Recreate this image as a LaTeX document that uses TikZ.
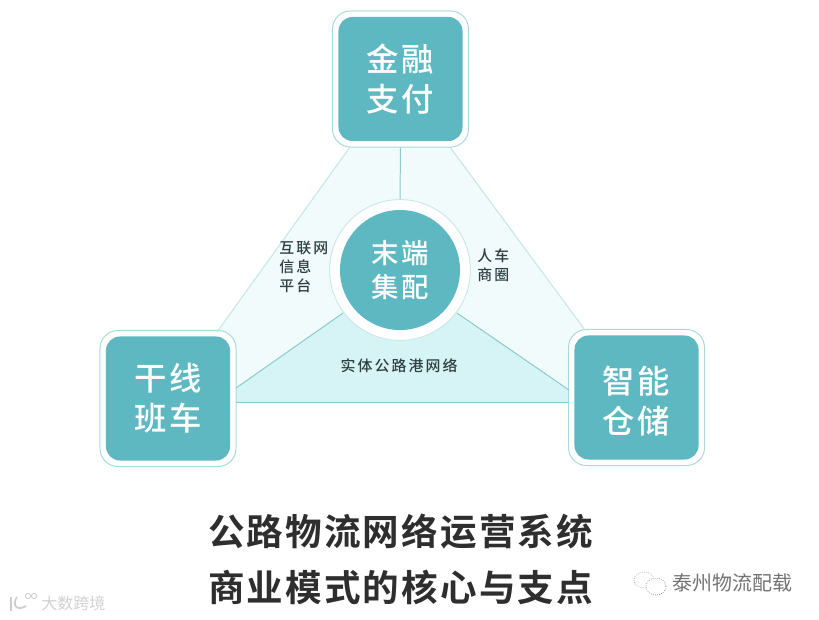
\documentclass[tikz,border=0pt]{standalone}
\usepackage{fontspec}
\usepackage{xcolor}
\setmainfont{Noto Sans CJK SC}
\newfontfamily\tilefont[LetterSpace=8]{Noto Sans CJK SC Medium}
\newfontfamily\notefont[LetterSpace=14]{Noto Sans CJK SC Medium}
\newfontfamily\titlefont[LetterSpace=5.8]{Noto Sans CJK SC Bold}
\definecolor{tilecol}{HTML}{5DB8C2}
\definecolor{framecol}{HTML}{A9DADB}
\definecolor{linecol}{HTML}{8CCBCB}
\definecolor{sidecol}{HTML}{F1FBFB}
\definecolor{basecol}{HTML}{D6F4F5}
\definecolor{inkcol}{HTML}{2F3F41}
\usetikzlibrary{positioning,calc,backgrounds}

\begin{document}
\begin{tikzpicture}[
  x=0.025cm, y=-0.025cm,
  frame/.style={draw=framecol, line width=.7pt, fill=white, rounded corners=4.5mm,
                minimum width=3.4cm, minimum height=3.4cm},
  tile/.style={fill=tilecol, text=white, rounded corners=3.5mm, align=center,
               minimum width=3.1cm, minimum height=3.1cm, inner sep=0pt,
               font=\tilefont\fontsize{23}{28.4}\selectfont},
  note/.style={text=inkcol, align=left, inner sep=0pt,
               font=\notefont\fontsize{10.6}{13.2}\selectfont},
  link/.style={draw=linecol, line width=.7pt},
  edge/.style={draw=framecol!70, line width=.7pt},
  title/.style={text=black!82, inner sep=0pt, font=\titlefont\fontsize{26}{39}\selectfont, align=left}
]
  \useasboundingbox (0,0) rectangle (819,619);

  \node[frame] (topframe) at (400.5,79) {};
  \node[frame] (leftframe) at (168,398.5) {};
  \node[frame] (rightframe) at (636.5,397.5) {};
  \node[tile] (finance) at (400.5,79) {金融\\支付};
  \node[tile] (trunk) at (168,398.5) {干线\\班车};
  \node[tile] (storage) at (636.5,397.5) {\rule{0pt}{24pt}智能\\仓储};

  \node[circle, draw=framecol!60, fill=white, line width=.7pt, minimum size=3.52cm] (hubframe) at (400,270) {};
  \node[circle, fill=tilecol, text=white, align=center, minimum size=3cm, inner sep=0pt,
        font=\tilefont\fontsize{19.5}{24}\selectfont] (hub) at (400,270) {末端\\集配};

  % free ends of the lines on the frames
  \coordinate (topleft) at (350,147);
  \coordinate (topright) at (450,147);
  \coordinate (leftup) at (217,332);
  \coordinate (rightup) at (585,330);
  \coordinate (leftlow) at (236,388);
  \coordinate (rightlow) at (569,390);
  \coordinate (leftbase) at (236,402);
  \coordinate (rightbase) at (569,402);
  \coordinate (hubleft) at (343,313);
  \coordinate (hubright) at (457,313);

  \begin{scope}[on background layer]
    \fill[sidecol] (topleft) -- (topright) -- (rightup) -- (rightlow) -- (hubright)
      -- (hubleft) -- (leftlow) -- (leftup) -- cycle;
    \fill[basecol] (hubleft) -- (hubright) -- (rightlow) -- (rightbase) -- (leftbase) -- (leftlow) -- cycle;
  \end{scope}

  \draw[edge] (topleft) -- (leftup);
  \draw[edge] (topright) -- (rightup);
  \draw[link] (topframe.south) -- (hubframe.north);
  \draw[link] (hubleft) -- (leftlow);
  \draw[link] (hubright) -- (rightlow);
  \draw[link] (leftbase) -- (rightbase);

  \node[note, anchor=west] (platform) at (279,267) {互联网\\信息\\平台};
  \node[note, anchor=west] (circlenote) at (477,265) {人车\\商圈};
  \node[note, anchor=center] (roadnet) at (399,366) {实体公路港网络};

  \node[title, anchor=west] (titleone) at (208,532) {公路物流网络运营系统};
  \node[title, anchor=west] (titletwo) at (208,587) {商业模式的核心与支点};

  % watermarks
  \node[text=black!55, inner sep=0pt, anchor=west, font=\fontsize{14.2}{16}\selectfont] (account) at (672,583) {泰州物流配载};
  \draw[black!35, line width=.5pt, densely dotted] (644,580) ellipse (10 and 8);
  \draw[black!45, fill=white, line width=.5pt, densely dotted] (656,586.5) ellipse (10 and 8.5);
  \node[text=black!18, inner sep=0pt, anchor=west, font=\fontsize{11.4}{14}\selectfont] (source) at (41,603) {大数跨境};
  \draw[black!20, line width=1.2pt] (11,597) -- (11,611);
  \draw[black!20, line width=1.2pt] (17,597) .. controls (12,604) and (16,612) .. (26,606);
  \draw[black!20, line width=.6pt] (28,596) circle (2.6) (34,596) circle (2.6);
\end{tikzpicture}
\end{document}
